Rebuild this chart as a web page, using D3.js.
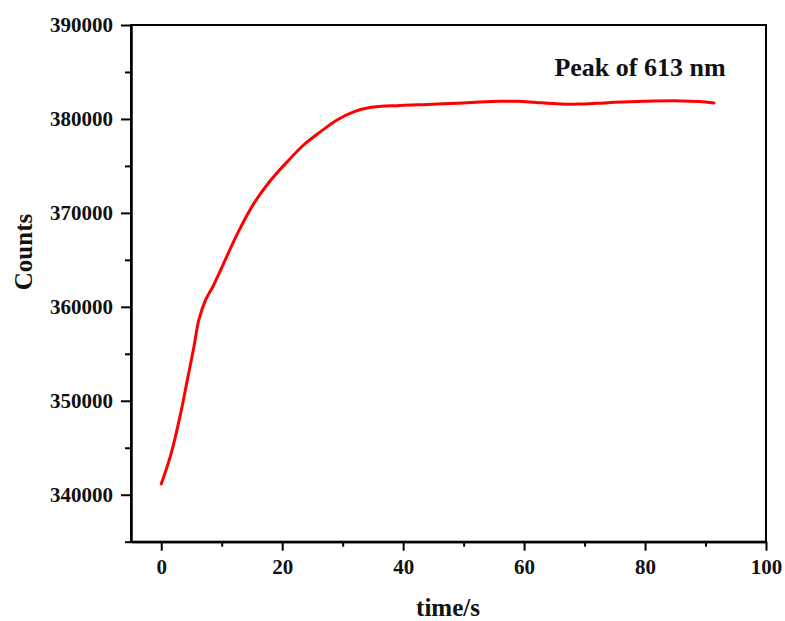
<!DOCTYPE html>
<html>
<head>
<meta charset="utf-8">
<script src="https://cdn.jsdelivr.net/npm/d3@7"></script>
<style>
  html, body { margin: 0; padding: 0; background: #fff; }
  svg text { font-family: "Liberation Serif", "Times New Roman", serif; font-weight: bold; fill: #111; }
</style>
</head>
<body>
<svg id="chart" width="785" height="621"></svg>
<script>
// Emission intensity at 613 nm over time
const timeS = [0, 1.6, 3.2, 4.3, 5.4, 6.2, 7.3, 8.5, 9.8, 12.6, 15.3, 18.1, 20.8, 23.5, 26.3, 29.0, 31.8, 34.5, 39.5,
               44, 48, 52, 56, 59, 62, 66, 69, 72, 75, 80, 86, 89, 91.4];
const counts = [341150, 344300, 348630, 352170, 355720, 358560, 360690, 362110, 363890, 367800, 370990, 373470,
                375420, 377200, 378620, 379860, 380750, 381210, 381430,
                381540, 381650, 381780, 381880, 381880, 381750, 381600, 381580, 381660, 381770, 381880, 381920, 381850, 381700];

const xMajorTicks = [0, 20, 40, 60, 80, 100];
const xMinorTicks = [10, 30, 50, 70, 90];
const yMajorTicks = [340000, 350000, 360000, 370000, 380000, 390000];
const yMinorTicks = [335000, 345000, 355000, 365000, 375000, 385000];

const xLabel = "time/s";
const yLabel = "Counts";
const annotation = "Peak of 613 nm";

const svg = d3.select("#chart");
const plotL = 131, plotR = 766, plotT = 25, plotB = 541.7;

const x = d3.scaleLinear().domain([-5, 100]).range([plotL, plotR]);
const y = d3.scaleLinear().domain([335000, 390000]).range([plotB, plotT]);

// frame (top and right edges)
svg.append("rect")
  .attr("x", plotL).attr("y", plotT)
  .attr("width", plotR - plotL).attr("height", plotB - plotT)
  .attr("fill", "none").attr("stroke", "#000").attr("stroke-width", 2);

function styleAxis(g) {
  g.selectAll("path.domain").attr("stroke", "#000").attr("stroke-width", 2);
  g.selectAll(".tick line").attr("stroke", "#000").attr("stroke-width", 2);
  g.selectAll(".tick text")
    .style("font-family", '"Liberation Serif", "Times New Roman", serif')
    .style("font-weight", "bold").style("font-size", "21px").attr("fill", "#111");
}

// x axis: minor then major ticks
const gx = svg.append("g").attr("transform", `translate(0,${plotB})`);
gx.call(d3.axisBottom(x).tickValues(xMinorTicks).tickSize(5).tickFormat("").tickSizeOuter(0));
const gxM = svg.append("g").attr("transform", `translate(0,${plotB})`);
gxM.call(d3.axisBottom(x).tickValues(xMajorTicks).tickSize(9).tickPadding(8).tickFormat(d3.format("d")).tickSizeOuter(0));
styleAxis(gx); styleAxis(gxM);

// y axis: minor then major ticks
const gy = svg.append("g").attr("transform", `translate(${plotL},0)`);
gy.call(d3.axisLeft(y).tickValues(yMinorTicks).tickSize(6).tickFormat("").tickSizeOuter(0));
const gyM = svg.append("g").attr("transform", `translate(${plotL},0)`);
gyM.call(d3.axisLeft(y).tickValues(yMajorTicks).tickSize(10).tickPadding(8).tickFormat(d3.format("d")).tickSizeOuter(0));
styleAxis(gy); styleAxis(gyM);

// data curve
const pts = timeS.map((t, i) => [t, counts[i]]);
svg.append("path")
  .datum(pts)
  .attr("fill", "none")
  .attr("stroke", "#ff0000")
  .attr("stroke-width", 3)
  .attr("stroke-linecap", "round")
  .attr("stroke-linejoin", "round")
  .attr("d", d3.line().x(d => x(d[0])).y(d => y(d[1])).curve(d3.curveCatmullRom.alpha(0.5)));

// annotation
svg.append("text")
  .attr("x", 640).attr("y", 76)
  .attr("text-anchor", "middle")
  .style("font-size", "26px")
  .text(annotation);

// axis titles
svg.append("text")
  .attr("x", 448).attr("y", 616)
  .attr("text-anchor", "middle")
  .style("font-size", "25px")
  .text(xLabel);

svg.append("text")
  .attr("transform", "translate(32,252) rotate(-90)")
  .attr("text-anchor", "middle")
  .style("font-size", "25px")
  .text(yLabel);
</script>
</body>
</html>
